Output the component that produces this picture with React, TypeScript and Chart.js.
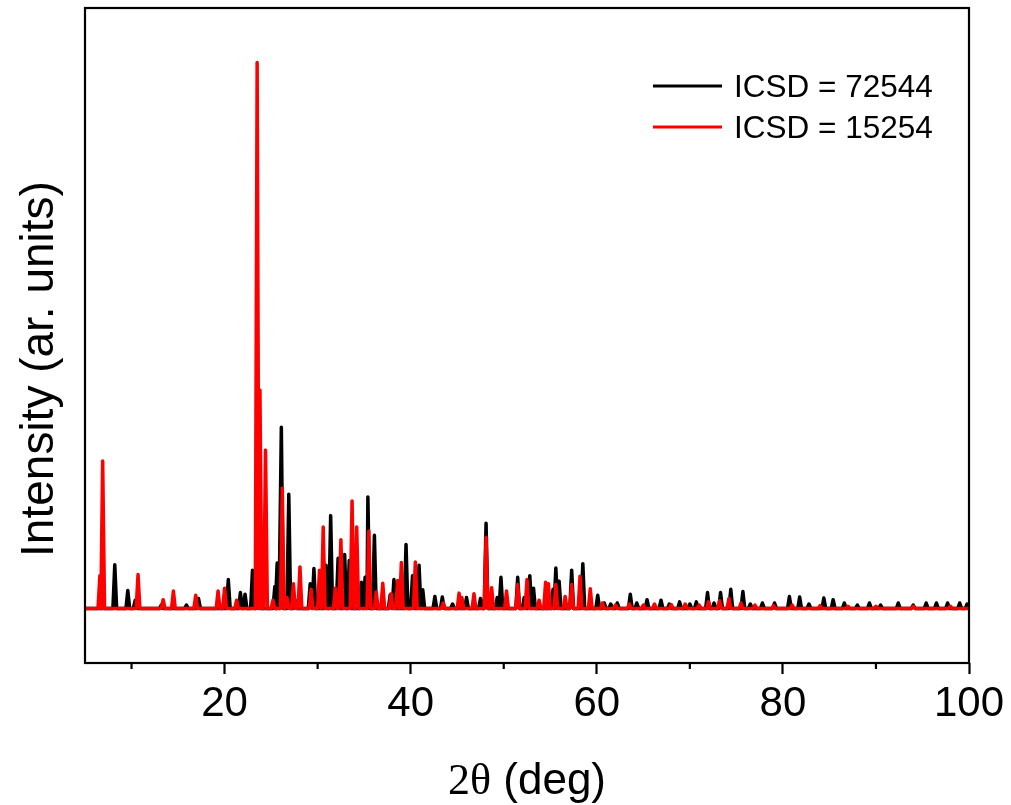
import React, { useEffect, useRef } from 'react';
import { Chart, registerables } from 'chart.js';

Chart.register(...registerables);

// ---------- data ----------
const X_MIN = 5;
const X_MAX = 100;
const Y_MIN = -10;
const Y_MAX = 110;
const MAJOR_TICKS = [20, 40, 60, 80, 100];
const MINOR_TICKS = [10, 30, 50, 70, 90];
const SERIES_LABELS = ['ICSD = 72544', 'ICSD = 15254'];
const SERIES_COLORS = ['#000000', '#ff0000'];

// ICSD 72544 (black): peak positions (2θ) and heights
const BLACK_POS = [8.2, 9.6, 10.4, 13.2, 15.9, 17.2, 20.4, 21.7, 22.2, 23.0, 23.6, 25.4, 25.65, 26.1, 26.9, 27.6, 29.2, 29.6, 30.9, 31.4, 32.2, 32.9, 33.4, 34.7, 35.1, 35.4, 36.1, 37.8, 38.2, 39.5, 40.2, 40.9, 41.3, 42.6, 43.4, 44.5, 46.0, 47.5, 48.1, 49.3, 49.7, 51.5, 52.2, 52.8, 53.2, 55.3, 55.6, 55.95, 57.3, 58.5, 60.1, 60.8, 61.5, 62.2, 63.6, 64.3, 65.4, 66.9, 67.8, 68.9, 70.0, 70.7, 71.9, 72.6, 73.3, 74.4, 75.7, 76.5, 77.8, 79.1, 80.7, 81.8, 82.8, 84.4, 85.4, 86.6, 88.0, 89.3, 90.5, 92.4, 94.0, 95.4, 96.5, 97.7, 99.0, 99.8];
const BLACK_INT = [8, 3.3, 1.5, 0.6, 0.6, 1.8, 5.3, 2.9, 2.6, 7.0, 11, 4, 8.3, 33.2, 20.9, 1.5, 4.5, 7.3, 7.9, 17, 9.2, 9.9, 8.8, 4.8, 5.7, 20.4, 13.4, 2.5, 5.3, 11.7, 6.0, 7.9, 3.4, 2.2, 2.1, 0.8, 2.0, 1.8, 15.6, 2, 5.7, 5.7, 2, 6, 3.7, 3.5, 7.4, 5, 7, 8.2, 2.4, 1, 0.8, 1, 2.6, 1, 1.6, 1.5, 0.8, 1.2, 0.8, 1.2, 2.9, 1, 2.9, 3.5, 3.1, 0.8, 1, 1, 2.2, 2.1, 0.8, 1.9, 1.6, 1, 0.6, 1, 0.6, 1, 0.6, 1, 1, 1, 1, 0.8];

// ICSD 15254 (red): peak positions (2θ) and heights
const RED_POS = [6.6, 6.9, 10.7, 13.4, 14.5, 16.9, 19.3, 20.0, 21.3, 23.5, 23.8, 24.4, 25.2, 26.2, 26.7, 27.4, 28.1, 29.3, 30.2, 30.6, 31.9, 32.5, 33.7, 34.2, 35.5, 36.3, 37.0, 37.9, 38.6, 39.0, 40.5, 43.5, 45.2, 45.5, 46.8, 48.1, 48.7, 50.3, 51.5, 52.5, 53.8, 54.5, 54.8, 55.6, 56.6, 57.3, 58.2, 59.3, 60.6, 62.0, 63.5, 65.0, 66.2, 68.0, 69.5, 71.0, 72.0, 73.2, 74.2, 75.5, 77.0, 79.0, 81.0, 84.0, 87.0, 90.0, 94.0, 98.0];
const RED_INT = [6, 27, 6.2, 1.6, 3.2, 2.4, 3.2, 3.7, 1.5, 100, 40, 29, 1.5, 22, 2, 4.5, 7.6, 3.5, 7.0, 14.9, 3.7, 12.6, 19.7, 14.9, 14.2, 3, 4.6, 2.7, 5.1, 8.4, 8.5, 1, 2.8, 2, 2.7, 13, 3.8, 3.2, 4.4, 5.3, 1.5, 4.8, 4.5, 4.4, 2.2, 4.4, 5.9, 3.6, 1, 0.6, 0.8, 0.6, 0.8, 0.7, 0.8, 0.6, 1.2, 1.4, 1.8, 1, 0.6, 0.5, 0.6, 0.5, 0.4, 0.4, 0.4, 0.4];

// ---------- build line tables from the peak lists ----------
const PEAK_HALF_WIDTH = 0.2;
function buildProfile(pos: number[], ints: number[]) {
  const pts: { x: number; y: number }[] = [{ x: X_MIN, y: 0 }];
  pos.forEach((p, i) => {
    pts.push({ x: p - PEAK_HALF_WIDTH, y: 0 });
    pts.push({ x: p, y: ints[i] });
    pts.push({ x: p + PEAK_HALF_WIDTH, y: 0 });
  });
  pts.push({ x: X_MAX, y: 0 });
  return pts;
}

const SANS = "'Liberation Sans', Arial, Helvetica, sans-serif";
const SERIF = "'Liberation Serif', 'Times New Roman', serif";

const decorPlugin = {
  id: 'decor',
  afterDraw(chart: any) {
    const { ctx, chartArea } = chart;
    const xs = chart.scales.x;
    const { left, right, top, bottom } = chartArea;
    ctx.save();
    // frame
    ctx.strokeStyle = '#000';
    ctx.lineWidth = 2.2;
    ctx.strokeRect(left, top, right - left, bottom - top);
    // minor ticks
    MINOR_TICKS.forEach((v) => {
      const px = xs.getPixelForValue(v);
      ctx.beginPath();
      ctx.moveTo(px, bottom);
      ctx.lineTo(px, bottom + 6);
      ctx.stroke();
    });
    // legend
    ctx.font = `31.5px ${SANS}`;
    ctx.textBaseline = 'alphabetic';
    ctx.textAlign = 'left';
    const legendY = [86, 127];
    SERIES_LABELS.forEach((lab, i) => {
      ctx.strokeStyle = SERIES_COLORS[i];
      ctx.lineWidth = 3;
      ctx.beginPath();
      ctx.moveTo(653, legendY[i]);
      ctx.lineTo(722, legendY[i]);
      ctx.stroke();
      ctx.fillStyle = '#000';
      ctx.fillText(lab, 734, legendY[i] + 11);
    });
    // y title
    ctx.save();
    ctx.translate(53, 369);
    ctx.rotate(-Math.PI / 2);
    ctx.font = `46px ${SANS}`;
    ctx.textAlign = 'center';
    ctx.fillStyle = '#000';
    ctx.fillText('Intensity (ar. units)', 0, 0);
    ctx.restore();
    // x title: "2θ" in serif, "(deg)" in sans
    const part1 = '2θ';
    const part2 = ' (deg)';
    ctx.font = `44px ${SERIF}`;
    const w1 = ctx.measureText(part1).width;
    ctx.font = `44px ${SANS}`;
    const w2 = ctx.measureText(part2).width;
    const cx = (left + right) / 2;
    const startX = cx - (w1 + w2) / 2;
    ctx.textAlign = 'left';
    ctx.fillStyle = '#000';
    ctx.font = `44px ${SERIF}`;
    ctx.fillText(part1, startX, 794);
    ctx.font = `44px ${SANS}`;
    ctx.fillText(part2, startX + w1, 794);
    ctx.restore();
  },
};

export default function App() {
  const canvasRef = useRef<HTMLCanvasElement | null>(null);

  useEffect(() => {
    if (!canvasRef.current) return;
    const chart = new Chart(canvasRef.current, {
      type: 'line',
      data: {
        datasets: [
          {
            label: SERIES_LABELS[0],
            data: buildProfile(BLACK_POS, BLACK_INT),
            borderColor: SERIES_COLORS[0],
            borderWidth: 3.5,
            pointRadius: 0,
            tension: 0,
            fill: false,
            borderJoinStyle: 'round',
            order: 1,
          },
          {
            label: SERIES_LABELS[1],
            data: buildProfile(RED_POS, RED_INT),
            borderColor: SERIES_COLORS[1],
            borderWidth: 3.5,
            pointRadius: 0,
            tension: 0,
            fill: false,
            borderJoinStyle: 'round',
            order: 0,
          },
        ],
      },
      options: {
        animation: false,
        responsive: false,
        maintainAspectRatio: false,
        parsing: false as any,
        layout: { padding: { left: 85, right: 42, top: 8, bottom: 0 } },
        plugins: {
          legend: { display: false },
          tooltip: { enabled: false },
          title: { display: false },
        },
        scales: {
          x: {
            type: 'linear',
            min: X_MIN,
            max: X_MAX,
            afterBuildTicks: (scale: any) => {
              scale.ticks = MAJOR_TICKS.map((v) => ({ value: v }));
            },
            afterFit: (scale: any) => {
              scale.height = 142;
            },
            border: { display: false },
            grid: {
              display: true,
              drawOnChartArea: false,
              drawTicks: true,
              tickLength: 11,
              tickWidth: 2.2,
              tickColor: '#000',
              color: '#000',
            },
            ticks: {
              color: '#000',
              font: { family: SANS, size: 42 },
              padding: 5,
              maxRotation: 0,
              autoSkip: false,
            },
          },
          y: {
            type: 'linear',
            display: false,
            min: Y_MIN,
            max: Y_MAX,
          },
        },
      },
      plugins: [decorPlugin],
    } as any);
    return () => chart.destroy();
  }, []);

  return (
    <div style={{ position: 'absolute', left: 0, top: 0, width: 1011, height: 805, background: '#fff' }}>
      <canvas ref={canvasRef} width={1011} height={805} style={{ display: 'block' }} />
    </div>
  );
}
